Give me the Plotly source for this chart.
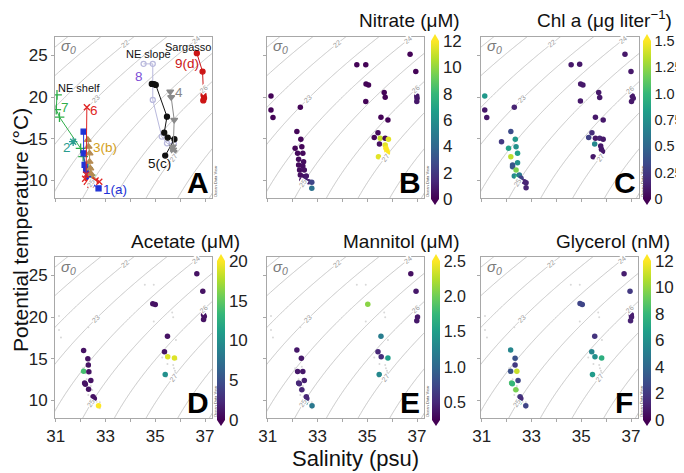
import numpy as np
import plotly.graph_objects as go

# The page adds an 8 px body margin, so the figure is drawn 8 px in from the corner.
OFF = 8
W, H = 684 - OFF, 473 - OFF
FONT = "Liberation Sans, Arial, sans-serif"
S_RANGE = [30.97, 37.28]
T_RANGE = [7.9, 27.2]

# ---------------- Panel A: stations ----------------
st1_S = [32.12, 32.12, 32.16, 32.22, 32.30, 32.45, 32.72]
st1_T = [15.85, 13.26, 11.86, 11.26, 10.45, 9.66, 9.06]
st2_S = [31.70]
st2_T = [14.65]
st3_S = [32.29, 32.32, 32.36, 32.36, 32.39, 32.42, 32.50]
st3_T = [14.86, 14.05, 13.26, 12.25, 11.46, 10.80, 10.20]
st4_S = [35.60, 35.64, 35.76, 35.70, 35.72, 35.74]
st4_T = [20.66, 19.98, 17.26, 14.05, 13.70, 13.40]
st5_S = [34.86, 34.95, 35.02, 35.47, 35.36, 35.50, 35.77, 35.40]
st5_T = [21.58, 21.55, 21.46, 17.65, 15.73, 15.14, 14.94, 12.98]
st6_S = [32.25, 32.22, 32.18, 32.25, 32.39, 32.60, 32.75]
st6_T = [18.78, 10.70, 10.20, 9.85, 9.50, 10.00, 9.85]
st7_S = [31.05, 31.02, 31.15, 32.00, 32.10, 32.30, 32.40, 32.50]
st7_T = [20.26, 18.50, 17.60, 13.85, 12.85, 11.50, 10.65, 9.90]
st8_S = [34.53, 34.90, 34.90, 35.26, 35.47, 35.75]
st8_T = [23.98, 23.98, 19.66, 15.26, 14.46, 14.40]
st9_S = [36.67, 36.90, 36.94, 36.96, 36.93]
st9_T = [25.26, 23.05, 20.26, 19.90, 19.60]

# ---------------- Panel B: nitrate ----------------
no3_S = [31.13, 31.13, 31.21, 32.31, 32.17, 32.33, 32.10, 32.37, 32.20, 32.41,
         32.24, 32.44, 32.24, 32.41, 32.28, 32.47, 32.31, 32.44, 32.55, 32.37,
         32.50, 32.64, 32.77, 32.77,
         34.58, 34.94, 34.95, 35.05, 34.94, 35.68, 35.72, 35.55, 35.83, 35.43,
         35.28, 35.52, 35.72, 35.85, 35.49, 35.72, 35.75, 35.79, 35.81, 35.45,
         36.72, 36.95, 36.99, 37.00, 36.99]
no3_T = [20.14, 18.46, 17.54, 18.78, 15.86, 14.94, 13.86, 14.05, 13.26, 13.26,
         12.54, 12.25, 11.86, 11.74, 11.26, 11.26, 10.66, 10.46, 10.54, 10.05,
         10.13, 9.85, 9.78, 9.06,
         23.86, 23.86, 21.58, 21.46, 19.46, 20.54, 19.98, 17.58, 17.26, 15.73,
         15.14, 15.06, 15.06, 14.94, 14.38, 14.26, 13.86, 13.57, 13.33, 12.85,
         25.14, 23.05, 20.14, 19.86, 19.46]
no3_V = [0.1, 0.1, 0.1, 0.1, 0.2, 0.2, 0.2, 0.2, 0.3, 0.3,
         0.3, 0.4, 0.3, 0.4, 0.4, 0.5, 0.5, 0.6, 0.8, 0.6,
         1.0, 1.2, 2.5, 4.5,
         0.1, 0.1, 0.1, 0.1, 0.1, 0.1, 0.1, 0.1, 0.1, 0.3,
         0.2, 11.0, 0.3, 11.5, 0.5, 11.5, 12.0, 12.0, 12.0, 11.5,
         0.1, 0.1, 0.8, 0.8, 0.8]

# ---------------- Panel C: chlorophyll a ----------------
chl_S = [31.12, 31.12, 31.20, 32.30, 32.16, 32.34, 31.79, 32.07, 32.37, 32.16,
         32.43, 32.23, 32.23, 32.43, 32.37, 32.30, 32.43, 32.50, 32.57, 32.70,
         32.77, 32.77,
         34.57, 34.91, 34.95, 35.04, 34.94, 35.67, 35.71, 35.54, 35.85, 35.40,
         35.27, 35.54, 35.71, 35.85, 35.51, 35.75, 35.78, 35.82, 35.45,
         36.72, 36.96, 37.01, 37.05, 36.98]
chl_T = [20.14, 18.46, 17.54, 18.78, 15.86, 14.94, 14.65, 13.86, 14.05, 12.85,
         13.26, 11.86, 11.66, 12.13, 11.26, 10.54, 10.46, 10.66, 10.26, 9.86,
         9.74, 9.14,
         23.86, 23.94, 21.58, 21.46, 19.54, 20.54, 19.94, 17.58, 17.26, 15.73,
         15.14, 15.06, 15.06, 14.94, 14.38, 14.14, 13.74, 13.46, 12.85,
         25.14, 23.05, 20.14, 19.86, 19.46]
chl_V = [0.8, 0.1, 0.1, 0.15, 0.35, 0.8, 0.25, 0.85, 0.75, 1.35,
         0.85, 0.4, 0.4, 0.75, 1.2, 0.7, 1.0, 0.6, 0.3, 0.15,
         0.15, 0.15,
         0.1, 0.1, 0.1, 0.1, 0.1, 0.1, 0.1, 0.1, 0.1, 0.2,
         0.3, 0.1, 0.15, 0.1, 0.7, 0.1, 0.1, 0.1, 0.1,
         0.1, 0.1, 0.1, 0.1, 0.1]

# ---------------- Panel D: acetate ----------------
ace_S = [36.67, 36.91, 36.94, 36.97, 36.94, 34.90, 35.00, 35.49, 35.37, 35.50, 35.77, 35.40,
         32.12, 32.29, 32.31, 32.12, 32.33, 32.16, 32.19, 32.41, 32.32, 32.50, 32.55, 32.45, 32.72]
ace_T = [25.20, 23.10, 20.28, 20.08, 19.70, 21.60, 21.50, 17.70, 15.83, 15.24, 15.08, 13.10,
         16.00, 15.00, 14.25, 13.50, 13.45, 12.10, 11.95, 12.40, 11.34, 10.44, 10.25, 9.77, 9.38]
ace_V = [1.0, 1.0, 1.0, 1.0, 1.0, 1.0, 1.0, 1.0, 1.0, 19.0, 19.0, 10.0,
         1.0, 1.0, 1.0, 14.0, 1.0, 1.0, 1.0, 1.0, 1.0, 1.0, 1.0, 1.5, 20.0]

# ---------------- Panel E: mannitol ----------------
man_S = [36.75, 36.96, 37.02, 36.99, 35.02, 35.55, 35.43, 35.56, 35.83, 35.48,
         32.17, 32.35, 32.20, 32.41, 32.24, 32.27, 32.47, 32.37, 32.55, 32.57, 32.51, 32.78]
man_T = [25.20, 23.10, 20.00, 19.57, 21.54, 17.71, 15.83, 15.24, 15.08, 13.11,
         16.06, 15.05, 13.47, 13.47, 12.10, 12.00, 12.40, 11.30, 10.44, 10.24, 9.77, 9.38]
man_V = [0.35, 0.4, 0.4, 0.4, 2.1, 1.2, 0.5, 0.55, 1.5, 1.3,
         0.4, 0.4, 0.4, 0.4, 0.5, 0.5, 0.45, 0.5, 0.5, 0.5, 1.3, 1.15]

# ---------------- Panel F: glycerol ----------------
gly_S = [36.72, 36.96, 37.01, 37.02, 36.98, 34.95, 35.04, 35.54, 35.42, 35.55, 35.82, 35.45,
         32.16, 32.34, 32.34, 32.16, 32.41, 32.20, 32.23, 32.46, 32.37, 32.54, 32.57, 32.50, 32.77]
gly_T = [25.20, 23.10, 20.28, 20.00, 19.57, 21.62, 21.50, 17.71, 15.83, 15.24, 15.08, 13.11,
         16.06, 15.05, 14.25, 13.50, 13.50, 12.10, 12.00, 12.40, 11.30, 10.44, 10.24, 9.77, 9.38]
gly_V = [1.0, 2.0, 1.0, 1.0, 1.2, 2.5, 2.5, 1.8, 5.5, 6.0, 7.5, 6.5,
         5.5, 3.0, 2.0, 3.0, 11.0, 8.5, 8.0, 2.5, 9.5, 2.0, 1.5, 7.5, 2.5]

# isopycnal levels and label temperatures
sig_levels = list(range(18, 32))
sig_labels = ["22", "23", "24", "25", "26", "27"]
sig_label_T = [26.4, 19.8, 26.9, 9.7, 20.9, 12.8]

x_ticks = [31, 32, 33, 34, 35, 36, 37]
x_ticktext = ["31", "", "33", "", "35", "", "37"]
y_ticks = [10, 15, 20, 25]


def sigma0(S, T):
    rw = (999.842594 + 6.793952e-2 * T - 9.095290e-3 * T**2 + 1.001685e-4 * T**3
          - 1.120083e-6 * T**4 + 6.536332e-9 * T**5)
    a = (0.824493 - 4.0899e-3 * T + 7.6438e-5 * T**2 - 8.2467e-7 * T**3 + 5.3875e-9 * T**4)
    b = (-5.72466e-3 + 1.0227e-4 * T - 1.6546e-6 * T**2)
    return rw + a * S + b * S**1.5 + 4.8314e-4 * S**2 - 1000.0


# panel boxes in window pixels: x0, x1, y0(top), y1(bottom)
BOX = {1: (55, 212, 37, 198), 2: (267, 424, 37, 198), 3: (481, 639, 37, 198),
       4: (55, 212, 257, 418), 5: (267, 424, 257, 418), 6: (481, 638, 257, 418)}


def px(x):
    return (x - OFF) / W


def py(y):
    return 1 - (y - OFF) / H


def ann(xx, yy, text, size, color, xanchor="center", **kw):
    d = dict(x=px(xx), y=py(yy), xref="paper", yref="paper", text=text,
             showarrow=False, xanchor=xanchor, yanchor="middle",
             font=dict(size=size, color=color, family=FONT))
    d.update(kw)
    return d


fig = go.Figure()

Sg = np.linspace(30.5, 37.8, 220)
Tg = np.linspace(7.0, 28.0, 220)
SS, TT = np.meshgrid(Sg, Tg)
Z = sigma0(SS, TT)

annotations = []
shapes = []


def ax_names(i):
    return ("x" if i == 1 else f"x{i}"), ("y" if i == 1 else f"y{i}")


for i, (x0, x1, y0, y1) in BOX.items():
    xa, ya = ax_names(i)
    fig.add_trace(go.Contour(
        x=Sg, y=Tg, z=Z, xaxis=xa, yaxis=ya, showscale=False, hoverinfo="skip",
        contours=dict(start=sig_levels[0], end=sig_levels[-1], size=1, coloring="none"),
        line=dict(color="#b8b8b8", width=0.8)))
    sx = (x1 - x0) / (S_RANGE[1] - S_RANGE[0])
    sy = (y1 - y0) / (T_RANGE[1] - T_RANGE[0])
    for lab, tl in zip(sig_labels, sig_label_T):
        lev = float(lab)
        s_fine = np.linspace(29, 40, 4000)
        sv = sigma0(s_fine, tl)
        s_at = float(np.interp(lev, sv, s_fine))
        dS = 1e-3
        dT = 1e-3
        dsdS = (sigma0(s_at + dS, tl) - sigma0(s_at - dS, tl)) / (2 * dS)
        dsdT = (sigma0(s_at, tl + dT) - sigma0(s_at, tl - dT)) / (2 * dT)
        dTdS = -dsdS / dsdT
        ang = -np.degrees(np.arctan(dTdS * sy / sx))
        xp = x0 + (s_at - S_RANGE[0]) * sx
        yp = y1 - (tl - T_RANGE[0]) * sy
        if x0 + 2 < xp < x1 - 2 and y0 + 2 < yp < y1 - 2:
            annotations.append(ann(xp, yp, lab, 7, "#9a9a9a", textangle=ang,
                                   bgcolor="white", borderpad=0))
    annotations.append(ann(x0 + 4, y0 + 10, "<i>σ<sub>0</sub></i>", 15, "#7a7a7a",
                           xanchor="left"))
    annotations.append(ann(x1 - 14, y1 - 16, "<b>" + "ABCDEF"[i - 1] + "</b>", 30, "black"))
    annotations.append(ann(x1 + 3, y1 - 16, "Ocean Data View", 4, "#555", textangle=-90))

# faint sample positions in bottom row
for i in (4, 5, 6):
    xa, ya = ax_names(i)
    fig.add_trace(go.Scatter(x=no3_S, y=no3_T, xaxis=xa, yaxis=ya, mode="markers",
                             marker=dict(size=2, color="#d8d8d8"), hoverinfo="skip",
                             showlegend=False))

# Panel A stations
stations = [
    (st7_S, st7_T, "#2fae4a", "cross-thin", 7, True),
    (st2_S, st2_T, "#2a9d8f", "asterisk", 7, False),
    (st1_S, st1_T, "#1f32d6", "square", 5, True),
    (st3_S, st3_T, "#b58b52", "triangle-up", 6, True),
    (st6_S, st6_T, "#e02424", "x-thin", 6, True),
    (st8_S, st8_T, "#b9b9dd", "circle-open", 5, True),
    (st5_S, st5_T, "#111111", "circle", 5, True),
    (st4_S, st4_T, "#8a8a8a", "triangle-down", 6, True),
    (st9_S, st9_T, "#cc1515", "circle", 5, True),
]
for S, T, col, sym, sz, ln in stations:
    fig.add_trace(go.Scatter(
        x=S, y=T, xaxis="x", yaxis="y", mode="lines+markers" if ln else "markers",
        line=dict(color=col, width=1),
        marker=dict(symbol=sym, size=sz, color=col,
                    line=dict(color=col, width=1.3)),
        hoverinfo="skip", showlegend=False))

# colored panels
cb_x = {2: 431, 3: 643, 4: 217, 5: 432, 6: 643}
cb_y = {2: (41, 199), 3: (41, 199), 4: (261, 420), 5: (261, 420), 6: (261, 420)}
cb_font = {2: 17, 3: 14.5, 4: 17, 5: 16, 6: 17}
panels = [
    (2, no3_S, no3_T, no3_V, 0, 12, [0, 2, 4, 6, 8, 10, 12], None),
    (3, chl_S, chl_T, chl_V, 0, 1.5, [0, 0.25, 0.5, 0.75, 1.0, 1.25, 1.5],
     ["0", "0.25", "0.5", "0.75", "1.0", "1.25", "1.5"]),
    (4, ace_S, ace_T, ace_V, 0, 20, [0, 5, 10, 15, 20], None),
    (5, man_S, man_T, man_V, 0.25, 2.5, [0.5, 1.0, 1.5, 2.0, 2.5],
     ["0.5", "1.0", "1.5", "2.0", "2.5"]),
    (6, gly_S, gly_T, gly_V, 0, 12, [0, 2, 4, 6, 8, 10, 12], None),
]
for i, S, T, V, vmin, vmax, tv, tt in panels:
    xa, ya = ax_names(i)
    yt, yb = cb_y[i]
    cb = dict(thickness=8, thicknessmode="pixels", len=yb - yt, lenmode="pixels",
              x=px(cb_x[i]), xanchor="left", y=py((yt + yb) / 2), yanchor="middle",
              xpad=0, ypad=0, outlinewidth=0, tickvals=tv, ticks="", ticklen=0,
              tickfont=dict(size=cb_font[i], color="#222", family=FONT))
    if tt is not None:
        cb["ticktext"] = tt
    fig.add_trace(go.Scatter(
        x=S, y=T, xaxis=xa, yaxis=ya, mode="markers",
        marker=dict(size=5.5, color=V, colorscale="Viridis", cmin=vmin, cmax=vmax,
                    colorbar=cb, line=dict(width=0)),
        hoverinfo="skip", showlegend=False))
    xl, xr = cb_x[i], cb_x[i] + 8
    shapes.append(dict(type="path", xref="paper", yref="paper",
                       path=f"M {px(xl)},{py(yt)} L {px((xl + xr) / 2)},{py(yt - 7)} L {px(xr)},{py(yt)} Z",
                       fillcolor="#fde725", line=dict(width=0)))
    shapes.append(dict(type="path", xref="paper", yref="paper",
                       path=f"M {px(xl)},{py(yb)} L {px((xl + xr) / 2)},{py(yb + 6)} L {px(xr)},{py(yb)} Z",
                       fillcolor="#440154", line=dict(width=0)))

# Panel A text labels
a_labels = [
    ("1(a)", 115, 190, "#1f32d6", 13.5),
    ("2", 67, 147, "#2a9d8f", 13.5),
    ("3(b)", 105, 147, "#d4a020", 13.5),
    ("4", 179, 92, "#888888", 13.5),
    ("5(c)", 159, 164, "#111111", 13.5),
    ("6", 94, 111, "#e02424", 13.5),
    ("7", 65, 107, "#2fae4a", 13.5),
    ("8", 139, 76, "#7d4fd6", 13.5),
    ("9(d)", 187, 63, "#cc1515", 13.5),
    ("NE shelf", 79, 88, "#111111", 11),
    ("NE slope", 148, 54, "#111111", 11),
    ("Sargasso", 188, 47, "#111111", 11),
]
for t, xx, yy, c, fs in a_labels:
    annotations.append(ann(xx, yy, t, fs, c))

# colorbar titles
titles = [
    ("Nitrate (μM)", 462, 21),
    ("Chl a (μg liter<sup>−1</sup>)", 674, 19),
    ("Acetate (μM)", 242, 241),
    ("Mannitol (μM)", 462, 242),
    ("Glycerol (nM)", 672, 241),
]
for t, xr, yy in titles:
    annotations.append(ann(xr, yy, t, 19, "#111", xanchor="right"))

annotations.append(ann(20, 230, "Potential temperature (°C)", 21, "#111", textangle=-90))
annotations.append(ann(355, 458, "Salinity (psu)", 22, "#111"))

layout = dict(width=W, height=H, margin=dict(l=0, r=0, t=0, b=0, autoexpand=False),
              paper_bgcolor="white", plot_bgcolor="white", showlegend=False,
              font=dict(family=FONT, color="#222"),
              annotations=annotations, shapes=shapes)

for i, (x0, x1, y0, y1) in BOX.items():
    xa, ya = ax_names(i)
    xname = "xaxis" if i == 1 else f"xaxis{i}"
    yname = "yaxis" if i == 1 else f"yaxis{i}"
    bottom = i >= 4
    left = i in (1, 4)
    layout[xname] = dict(domain=[px(x0), px(x1)], range=S_RANGE, anchor=ya,
                         automargin=False,
                         showline=True, mirror=True, linecolor="#a8a8a8", linewidth=1,
                         ticks="outside", ticklen=3, tickcolor="#a8a8a8",
                         tickvals=x_ticks,
                         ticktext=x_ticktext if bottom else [""] * len(x_ticks),
                         showgrid=False, zeroline=False,
                         tickfont=dict(size=17, color="#222", family=FONT))
    layout[yname] = dict(domain=[py(y1), py(y0)], range=T_RANGE, anchor=xa,
                         automargin=False,
                         showline=True, mirror=True, linecolor="#a8a8a8", linewidth=1,
                         ticks="outside", ticklen=3, tickcolor="#a8a8a8",
                         tickvals=y_ticks,
                         ticktext=[str(v) for v in y_ticks] if left else [""] * len(y_ticks),
                         showgrid=False, zeroline=False,
                         tickfont=dict(size=17, color="#222", family=FONT))

fig.update_layout(**layout)
fig.write_html("out.html")
